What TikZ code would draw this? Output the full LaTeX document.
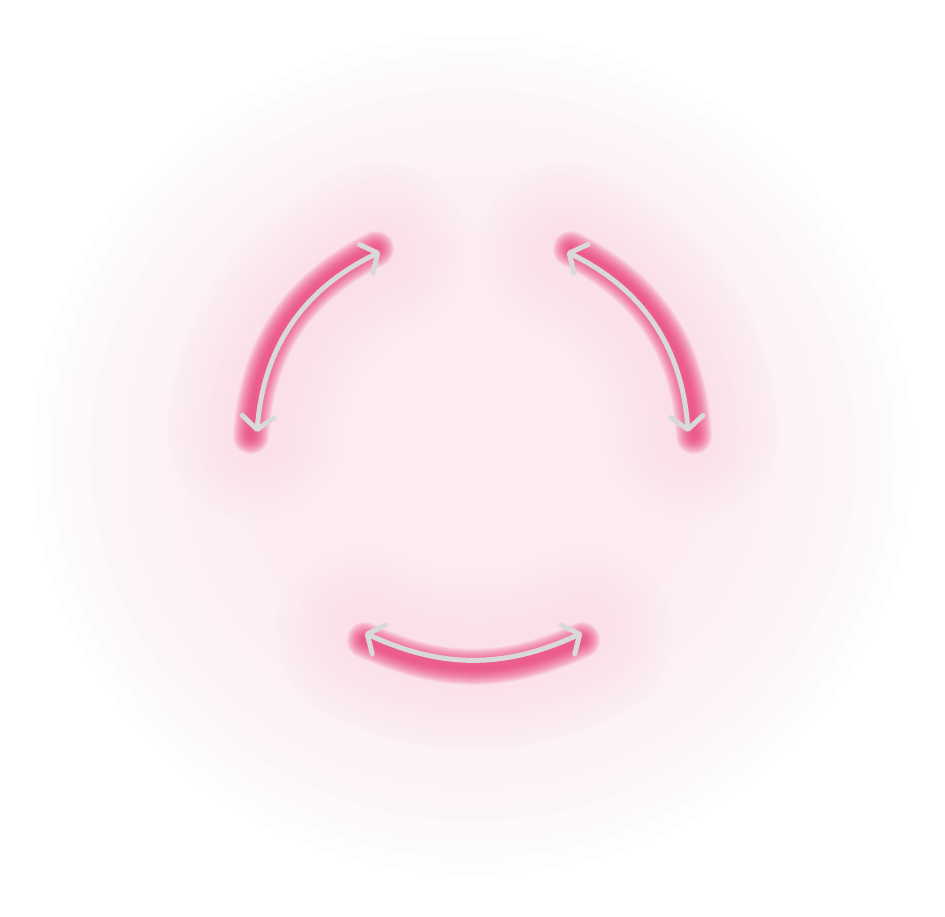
\documentclass[tikz,border=0pt]{standalone}
\usetikzlibrary{arrows.meta,calc}
\definecolor{glowpink}{RGB}{236,58,116}
\definecolor{linegray}{RGB}{217,217,217}
\definecolor{bgtint}{RGB}{253,237,243}
\definecolor{halotint}{RGB}{251,224,235}
\begin{document}
\begin{tikzpicture}[x=1pt,y=-1pt,
  arrowarc/.style={draw=linegray, line width=5pt,
    {Straight Barb[length=13pt,width=32pt,round]}-{Straight Barb[length=13pt,width=32pt,round]}},
  glowline/.style={draw=glowpink, line cap=round, line width=#1, opacity=0.085},
  haloline/.style={draw=halotint, line cap=round, line width=#1, opacity=0.07},
  bglayer/.style={fill=bgtint, opacity=0.12}]
\useasboundingbox (0,0) rectangle (945,917);
\clip (0,0) rectangle (945,917);
\fill[white] (0,0) rectangle (945,917);
% soft background glow
\foreach \k in {0,...,19} {
  \fill[bglayer] (473,455) ellipse ({440-19*\k} and {420-18*\k});
}
% end points
\coordinate (l1) at (257,432);
\coordinate (l2) at (380,252);
\coordinate (r1) at (567,252);
\coordinate (r2) at (688,432);
\coordinate (b1) at (365,633);
\coordinate (b2) at (582,633);
% wide halos
\foreach \w in {40,50,...,180} {
  \draw[haloline=\w pt] (l1) to[bend left=30] (l2);
  \draw[haloline=\w pt] (r1) to[bend left=30] (r2);
  \draw[haloline=\w pt] (b1) to[bend right=25] (b2);
}
% glows
\foreach \w in {36,34,...,6} {
  \draw[glowline=\w pt] ($(l1)+(-6,4)$) to[bend left=30] ($(l2)+(-4,-3)$);
  \draw[glowline=\w pt] ($(r1)+(4,-3)$) to[bend left=30] ($(r2)+(6,4)$);
  \draw[glowline=\w pt] ($(b1)+(0,7)$) to[bend right=25] ($(b2)+(0,7)$);
}
% arrows
\draw[arrowarc] (l1) to[bend left=30] (l2);
\draw[arrowarc] (r1) to[bend left=30] (r2);
\draw[arrowarc] (b1) to[bend right=25] (b2);
\end{tikzpicture}
\end{document}
